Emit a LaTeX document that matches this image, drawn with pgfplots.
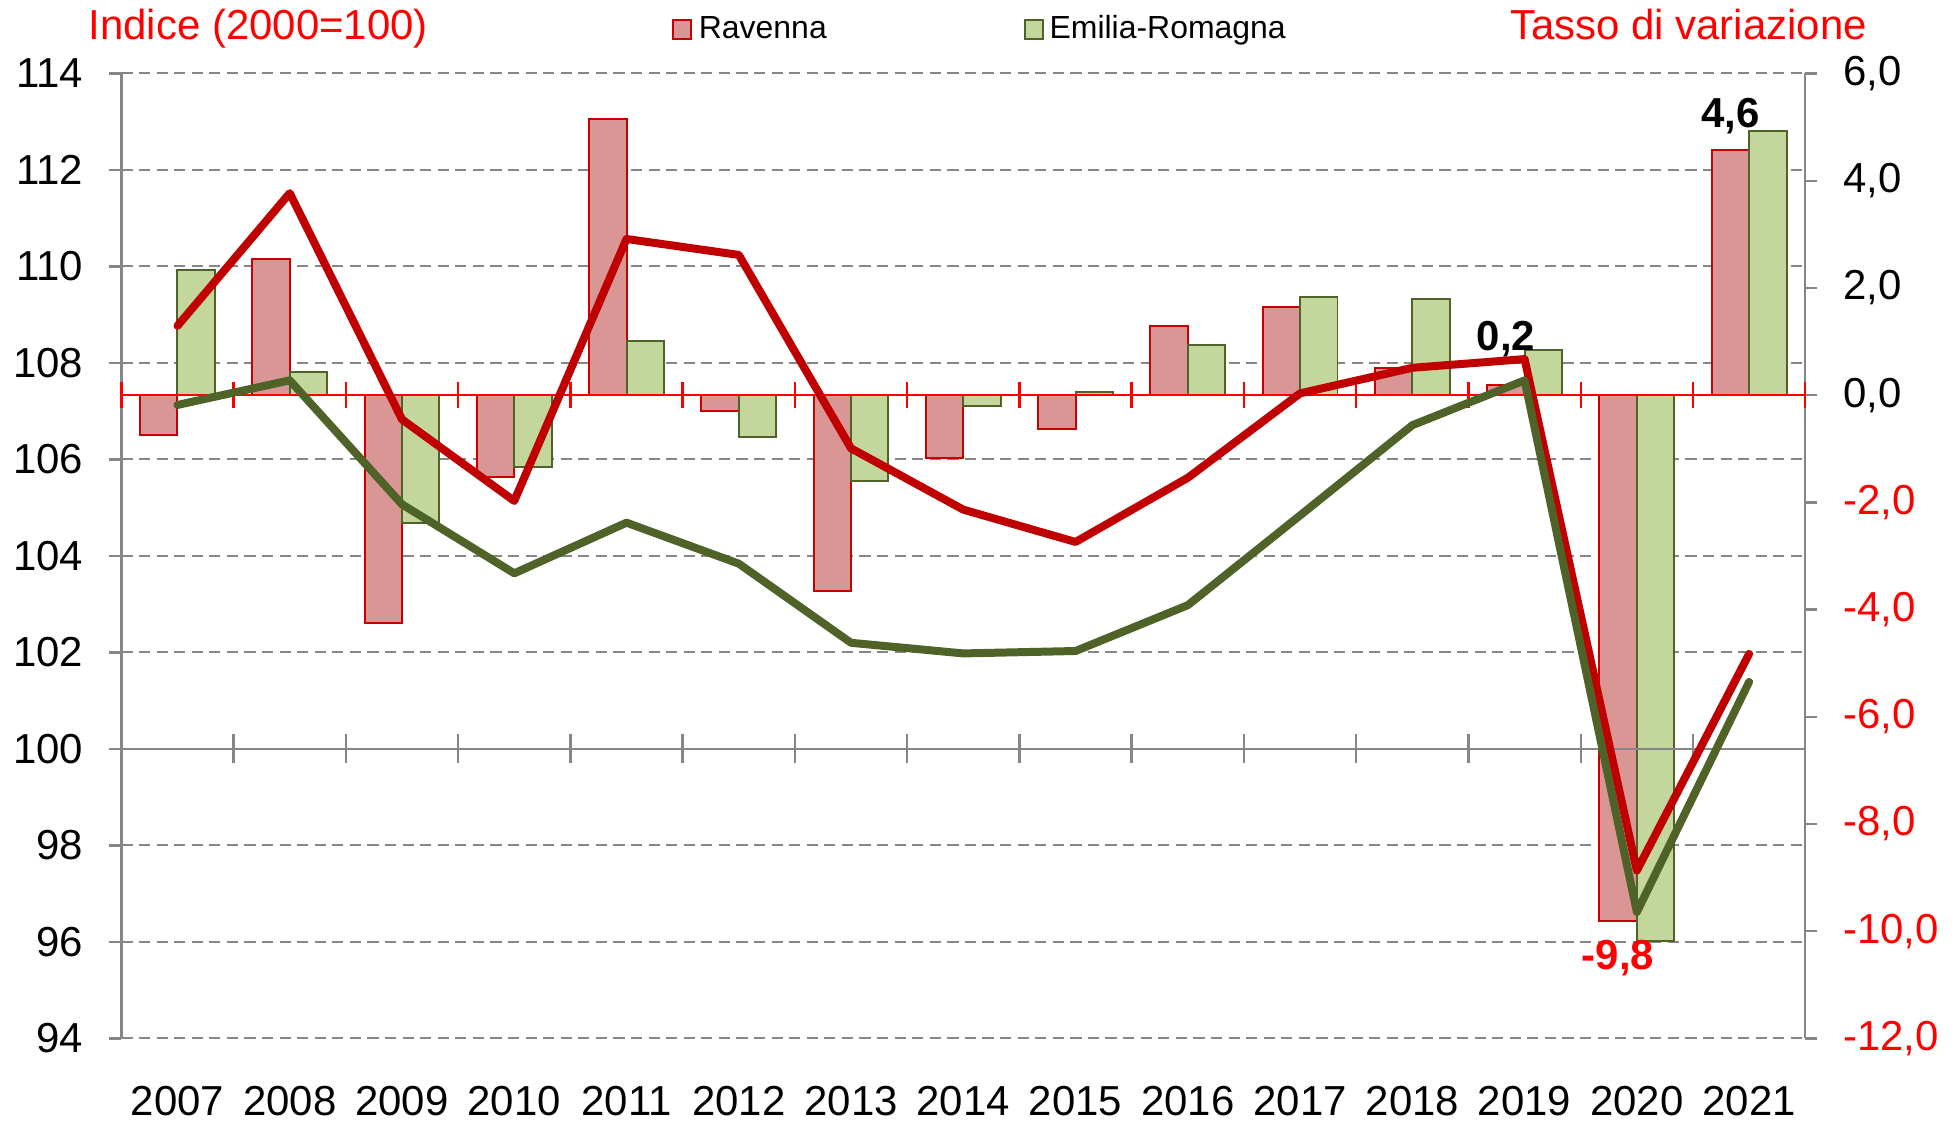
\documentclass[border=0pt]{standalone}
\usepackage{fontspec}
\setmainfont{Liberation Sans}
\usepackage{pgfplots}
\pgfplotsset{compat=1.18}

\definecolor{ravbar}{RGB}{217,150,148}
\definecolor{ravedge}{RGB}{200,0,0}
\definecolor{ravline}{RGB}{192,0,0}
\definecolor{erbar}{RGB}{195,214,155}
\definecolor{eredge}{RGB}{79,98,40}
\definecolor{erline}{RGB}{79,98,40}
\definecolor{gridgrey}{RGB}{134,134,134}

\pgfplotsset{
  base/.style={width=421.6pt, height=241.6pt, scale only axis,
    xmin=-0.5, xmax=14.5, clip=false},
}

\begin{document}
\begin{tikzpicture}[font=\fontsize{10.5}{12}\selectfont]

% grid, left axis (index) and year labels
\begin{axis}[base,
  ymin=94, ymax=114, ytick={94,96,...,114},
  ymajorgrids,
  grid style={gridgrey, line width=0.5pt, dash pattern=on 2.8pt off 1.6pt},
  axis y line*=left, axis x line*=bottom,
  y axis line style={gridgrey, line width=0.6pt},
  x axis line style={draw=none},
  xtick={0,...,14},
  xticklabels={2007,2008,2009,2010,2011,2012,2013,2014,2015,2016,2017,2018,2019,2020,2021},
  x tick style={draw=none},
  y tick style={gridgrey, line width=0.6pt},
  tick align=outside, major tick length=3pt,
  xticklabel style={inner sep=0pt, yshift=-8.7pt},
  yticklabel style={xshift=-3pt},
  /pgf/number format/assume math mode=true,
]
\addplot[draw=none] coordinates {(0,100)};
\end{axis}

% bars: rate of change (right axis)
\begin{axis}[base,
  ymin=-12, ymax=6, ytick={-12,-10,...,6},
  yticklabels={{\color{red}-12,0},{\color{red}-10,0},{\color{red}-8,0},{\color{red}-6,0},{\color{red}-4,0},{\color{red}-2,0},{0,0},{2,0},{4,0},{6,0}},
  axis y line*=right, axis x line=none,
  y axis line style={gridgrey, line width=0.6pt},
  y tick style={gridgrey, line width=0.6pt},
  tick align=outside, major tick length=3pt,
  yticklabel style={xshift=3pt},
]
\addplot[ybar, bar width=0.3333, bar shift=-0.16667, fill=ravbar, draw=ravedge, line width=0.5pt]
  coordinates {(0,-0.74) (1,2.54) (2,-4.25) (3,-1.53) (4,5.15) (5,-0.30) (6,-3.65) (7,-1.18)
               (8,-0.63) (9,1.29) (10,1.64) (11,0.51) (12,0.19) (13,-9.8) (14,4.58)};
\addplot[ybar, bar width=0.3333, bar shift=0.16667, fill=erbar, draw=eredge, line width=0.5pt]
  coordinates {(0,2.33) (1,0.44) (2,-2.38) (3,-1.34) (4,1.01) (5,-0.79) (6,-1.61) (7,-0.21)
               (8,0.06) (9,0.94) (10,1.83) (11,1.79) (12,0.84) (13,-10.19) (14,4.93)};
\addplot[red, line width=0.6pt] coordinates {(-0.5,0) (14.5,0)};
\pgfplotsinvokeforeach{-0.5,0.5,...,14.5}{
  \draw[red, line width=0.6pt] (axis cs:#1,-0.24) -- (axis cs:#1,0.24);
}
\end{axis}

% lines: index 2000=100 (left axis)
\begin{axis}[base, ymin=94, ymax=114, hide axis]
\addplot[gridgrey, line width=0.6pt] coordinates {(-0.5,100) (14.5,100)};
\pgfplotsinvokeforeach{0.5,1.5,...,13.5}{
  \draw[gridgrey, line width=0.6pt] (axis cs:#1,99.7) -- (axis cs:#1,100.3);
}
\addplot[ravline, line width=2pt, line join=round, line cap=round]
  coordinates {(0,108.77) (1,111.52) (2,106.83) (3,105.14) (4,110.57) (5,110.24) (6,106.23)
               (7,104.96) (8,104.29) (9,105.62) (10,107.37) (11,107.90) (12,108.08) (13,97.48) (14,101.97)};
\addplot[erline, line width=2pt, line join=round, line cap=round]
  coordinates {(0,107.13) (1,107.64) (2,105.07) (3,103.64) (4,104.69) (5,103.84) (6,102.20)
               (7,101.98) (8,102.03) (9,102.98) (10,104.84) (11,106.71) (12,107.64) (13,96.62) (14,101.39)};
\node[font=\fontsize{10.5}{12}\selectfont\bfseries] at (axis cs:13.833,113.12) {4,6};
\node[font=\fontsize{10.5}{12}\selectfont\bfseries] at (axis cs:11.833,108.49) {0,2};
\node[font=\fontsize{10.5}{12}\selectfont\bfseries, red] at (axis cs:12.833,95.66) {-9,8};
\end{axis}

% titles and legend
\node[red, anchor=base west, inner sep=0pt] at ([xshift=-8.4pt, yshift=8.4pt]current axis.north west) {Indice (2000=100)};
\node[red, anchor=base east, inner sep=0pt] at ([xshift=15.6pt, yshift=8.4pt]current axis.north east) {Tasso di variazione};
\draw[ravedge, fill=ravbar, line width=0.5pt] ([xshift=138.1pt, yshift=8.75pt]current axis.north west) rectangle ++(4.4pt,4.7pt);
\node[anchor=base west, inner sep=0pt, font=\fontsize{8}{9}\selectfont] at ([xshift=144.4pt, yshift=8.75pt]current axis.north west) {Ravenna};
\draw[eredge, fill=erbar, line width=0.5pt] ([xshift=226.25pt, yshift=8.75pt]current axis.north west) rectangle ++(4.4pt,4.7pt);
\node[anchor=base west, inner sep=0pt, font=\fontsize{8}{9}\selectfont] at ([xshift=232.2pt, yshift=8.75pt]current axis.north west) {Emilia-Romagna};

% page size
\path ([xshift=-29.7pt, yshift=-21pt]current axis.south west) rectangle ([xshift=38.75pt, yshift=18.4pt]current axis.north east);
\end{tikzpicture}
\end{document}
